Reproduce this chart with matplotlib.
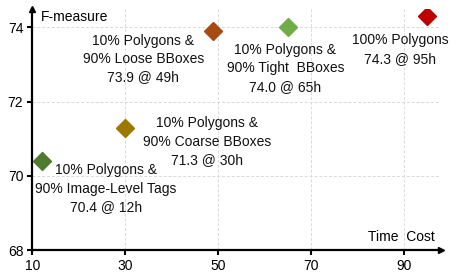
import matplotlib
matplotlib.use("Agg")
import matplotlib.pyplot as plt

# ===================== data =====================
hours = [12, 30, 49, 65, 95]
fmeasure = [70.4, 71.3, 73.9, 74.0, 74.3]
colors = ["#507A30", "#9C7800", "#A84B12", "#70AD47", "#C00000"]
labels = [
    "10% Polygons &\n90% Image-Level Tags\n70.4 @ 12h",
    "10% Polygons &\n90% Coarse BBoxes\n71.3 @ 30h",
    "10% Polygons &\n90% Loose BBoxes\n73.9 @ 49h",
    "10% Polygons &\n90% Tight  BBoxes\n74.0 @ 65h",
    "100% Polygons\n74.3 @ 95h",
]
# label anchor (data coords) for each point
label_x = [25.9, 47.7, 33.9, 64.5, 89.2]
label_y = [69.66, 70.92, 73.15, 72.90, 73.40]

xticks = [10, 30, 50, 70, 90]
yticks = [68, 70, 72, 74]

# ===================== plot =====================
plt.rcParams["font.family"] = ["Liberation Sans", "DejaVu Sans"]
fig = plt.figure(figsize=(4.57, 2.77), dpi=100)
ax = fig.add_axes([0.0707, 0.0964, 0.894, 0.872])

ax.set_xlim(10, 98)
ax.set_ylim(68, 74.5)

for xv in xticks[1:]:
    ax.axvline(xv, color="#d9d9d9", lw=0.7, ls=(0, (3, 2)), zorder=0)
for yv in yticks[1:]:
    ax.axhline(yv, color="#d9d9d9", lw=0.7, ls=(0, (3, 2)), zorder=0)

for x, y, c in zip(hours, fmeasure, colors):
    ax.plot(x, y, marker="D", ms=9, color=c, mec=c, zorder=3)

for lx, ly, t in zip(label_x, label_y, labels):
    ax.text(lx, ly, t, ha="center", va="center", fontsize=10, linespacing=1.4, color="#111111")

ax.set_xticks(xticks)
ax.set_yticks(yticks)
ax.tick_params(direction="out", length=3.5, width=1.5, labelsize=10, pad=3)
for s in ["top", "right"]:
    ax.spines[s].set_visible(False)
for s in ["left", "bottom"]:
    ax.spines[s].set_linewidth(1.6)

# arrow heads
ax.plot(1, 0, marker=">", ms=4, color="k", transform=ax.transAxes, clip_on=False)
ax.plot(0, 1, marker="^", ms=4, color="k", transform=ax.transAxes, clip_on=False)

ax.text(0.021, 0.967, "F-measure", transform=ax.transAxes, ha="left", va="center", fontsize=10)
ax.text(0.985, 0.054, "Time  Cost", transform=ax.transAxes, ha="right", va="center", fontsize=10)

fig.savefig("out.png", dpi=100)
